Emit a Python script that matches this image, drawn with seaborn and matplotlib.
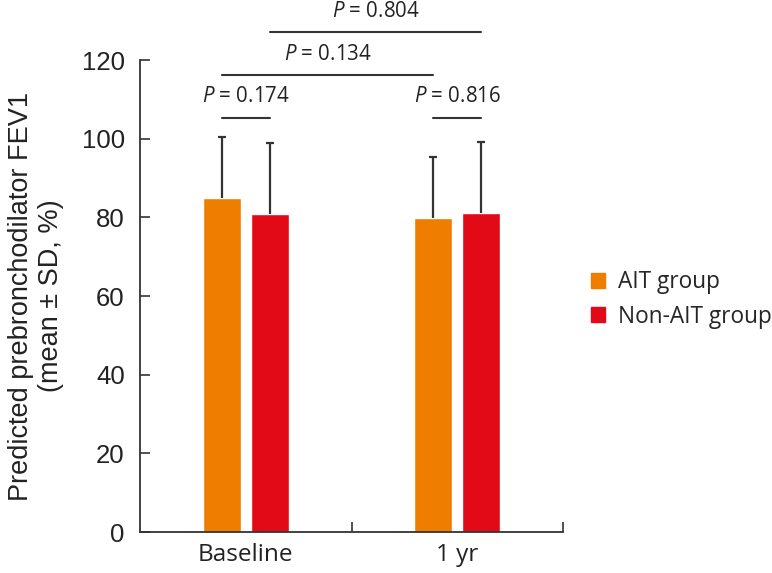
import numpy as np
import pandas as pd
import matplotlib.pyplot as plt
import seaborn as sns

# values
timepoints = ["Baseline", "1 yr"]
groups = ["AIT group", "Non-AIT group"]
mean_ait = [84.8, 79.9]
mean_non_ait = [80.8, 81.0]
sd_ait = [15.6, 15.4]
sd_non_ait = [18.1, 18.2]
colors = ["#EF7D00", "#E30A17"]

# p-value brackets: (bar a, bar b, label); bars indexed (group, timepoint)
p_pairs = [((0, 0), (1, 0), "0.174"),
           ((0, 1), (1, 1), "0.816"),
           ((0, 0), (0, 1), "0.134"),
           ((1, 0), (1, 1), "0.804")]
bracket_y = [105.3, 105.3, 116.2, 127.1]

sns.set_style("ticks")
plt.rcParams["font.family"] = ["Liberation Sans", "DejaVu Sans"]
plt.rcParams["mathtext.fontset"] = "custom"
plt.rcParams["mathtext.it"] = "Open Sans:italic"
plt.rcParams["mathtext.rm"] = "Open Sans"

df = pd.DataFrame({
    "time": timepoints * 2,
    "group": [g for g in groups for _ in timepoints],
    "mean": mean_ait + mean_non_ait,
    "sd": sd_ait + sd_non_ait,
})

fig = plt.figure(figsize=(7.72, 5.73), dpi=100)
ax = fig.add_axes([140 / 772, 41 / 573, 423 / 772, 472 / 573])

sns.barplot(data=df, x="time", y="mean", hue="group", palette=colors,
            width=0.453, gap=0.21, errorbar=None, saturation=1,
            ax=ax, legend=False)

ink = "#333333"
centers = {}
for gi, (cont, g) in enumerate(zip(ax.containers, groups)):
    xs = [b.get_x() + b.get_width() / 2 for b in cont]
    ys = [b.get_height() for b in cont]
    sd = df.loc[df["group"] == g, "sd"].to_numpy()
    eb = ax.errorbar(xs, ys, yerr=[np.zeros_like(sd), sd], fmt="none",
                     ecolor=ink, elinewidth=1.6, capsize=3.2, capthick=1.6, zorder=3)
    # only the upper whisker: hide the cap that sits on the bar top
    for cap in eb[1]:
        if np.allclose(cap.get_ydata(), ys):
            cap.set_visible(False)
    for ti, x in enumerate(xs):
        centers[(gi, ti)] = x

for (a, b, lab), y in zip(p_pairs, bracket_y):
    x0, x1 = centers[a], centers[b]
    ax.plot([x0, x1], [y, y], color=ink, lw=1.5, clip_on=False)
    ax.text((x0 + x1) / 2, y + 5.3, "$P$ = " + lab, ha="center", va="center",
            fontsize=14.8, family="Open Sans", color="#222222")

ax.set_xlim(-0.5, 1.5)
ax.set_ylim(0, 120)
ax.set_yticks(range(0, 121, 20))
ax.set_xticks([0.5, 1.5], minor=True)
ax.tick_params(axis="y", direction="in", length=7.5, width=1.2, labelsize=18.5,
               pad=11, color=ink, labelcolor="#222222")
ax.tick_params(axis="x", which="major", length=0, pad=8)
ax.tick_params(axis="x", which="minor", direction="in", length=7.5, width=1.2, color=ink)
for lbl in ax.get_xticklabels():
    lbl.set_fontfamily("Open Sans")
    lbl.set_fontsize(17.5)
    lbl.set_color("#222222")

ax.set_xlabel("")
ax.set_ylabel("Predicted prebronchodilator FEV1\n(mean \u00b1 SD, %)",
              fontsize=19.5, color="#222222", labelpad=13)

sns.despine(ax=ax)
for s in ["left", "bottom"]:
    ax.spines[s].set_color(ink)
    ax.spines[s].set_linewidth(1.3)

handles = [plt.Rectangle((0, 0), 1, 1, color=c) for c in colors]
fig.legend(handles, groups, loc="upper left", bbox_to_anchor=(580 / 772, 1 - 259 / 573),
           frameon=False, handlelength=0.62, handleheight=0.62,
           handletextpad=0.55, labelspacing=0.45, borderpad=0,
           prop={"family": "Open Sans", "size": 16.3})

fig.savefig("out.png", dpi=100)
